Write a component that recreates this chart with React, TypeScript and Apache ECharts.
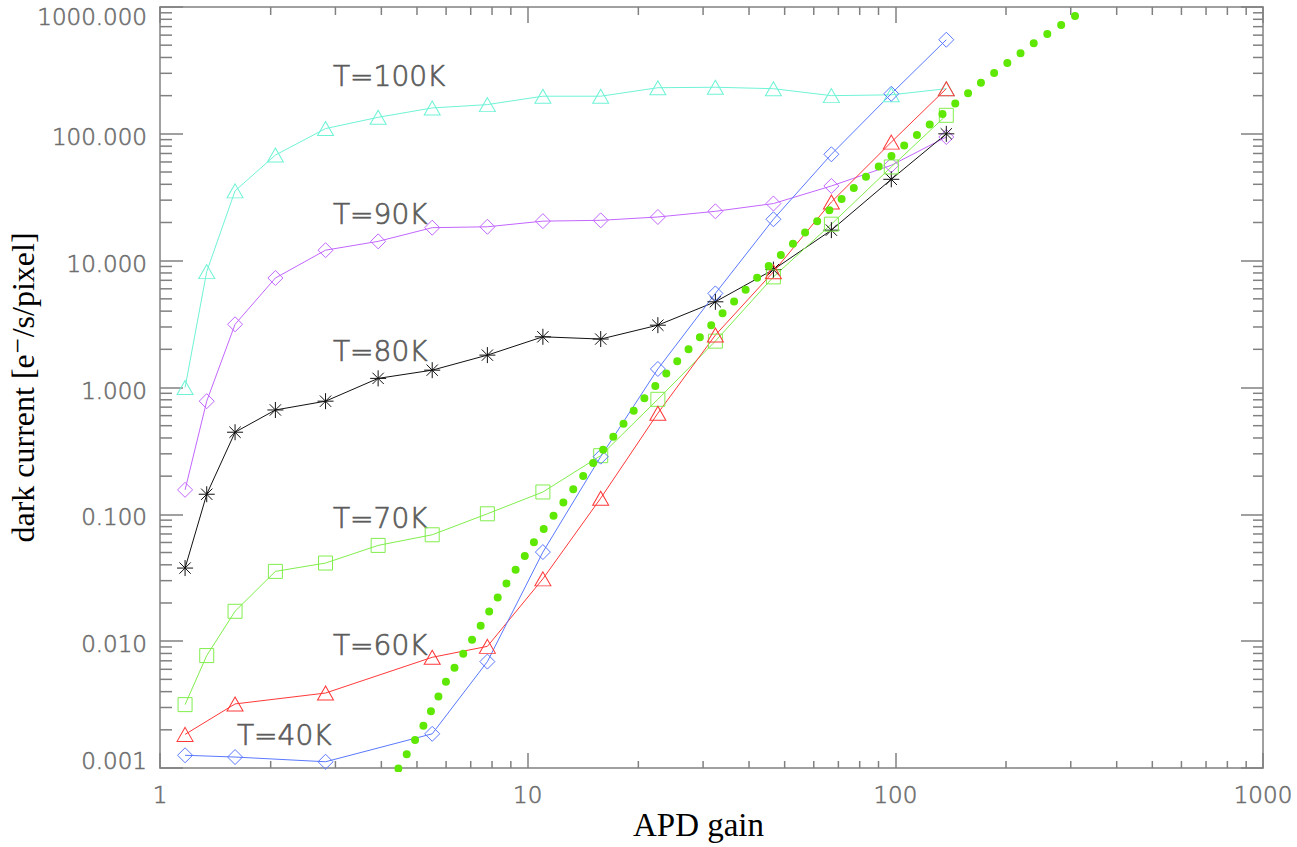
import React, { useEffect, useRef } from "react";
import * as echarts from "echarts";

// ---- data ----
const gainFull = [1.17, 1.34, 1.6, 2.06, 2.82, 3.92, 5.5, 7.77, 11.0, 15.8, 22.6, 32.4, 46.6, 67, 97.5, 137.6];
const gainSub = [1.17, 1.6, 2.82, 5.5, 7.77, 11.0, 15.8, 22.6, 32.4, 46.6, 67, 97.5, 137.6];

const dark100K = [1.0, 8.2, 35.5, 68, 110, 135, 160, 170, 198, 198, 231, 233, 227, 200, 203, 227];
const dark90K = [0.156, 0.78, 3.15, 7.3, 12.1, 14.2, 18.2, 18.5, 20.5, 20.8, 22.1, 24.5, 28.2, 38.8, 56.5, 94.4];
const dark80K = [0.0377, 0.144, 0.444, 0.665, 0.78, 1.18, 1.37, 1.8, 2.51, 2.41, 3.1, 4.74, 8.5, 17.4, 43.8, 100];
const dark70K = [0.00316, 0.0077, 0.0172, 0.0355, 0.0413, 0.0569, 0.069, 0.101, 0.15, 0.29, 0.807, 2.32, 7.45, 19.4, 54.8, 140];
const dark60K = [0.00184, 0.0032, 0.0039, 0.00746, 0.0091, 0.031, 0.134, 0.627, 2.59, 8.17, 29, 86, 227];
const dark40K = [0.00126, 0.00122, 0.00112, 0.00186, 0.0069, 0.0504, 0.285, 1.4, 5.52, 21.2, 69, 207, 552];

const modelGain = [4.45, 5.22, 6.04, 7.22, 8.58, 10.42, 12.85, 15.89, 19.9, 25.8, 33.9, 44.9, 60.7, 83.3, 118, 168, 246, 336];
const modelDark = [0.00099, 0.00218, 0.005, 0.0114, 0.0261, 0.0608, 0.138, 0.312, 0.715, 1.67, 3.85, 8.87, 19.9, 45.9, 105.4, 243, 557, 1000];

const curveLabels = ["T=100K", "T=90K", "T=80K", "T=70K", "T=60K", "T=40K"];

const xDecades = [1, 10, 100];
const yDecades = [0.001, 0.01, 0.1, 1, 10, 100];
const minorMultipliers = [2, 3, 4, 5, 6, 7, 8, 9];

const AXIS_COLOR = "#808080";
const LABEL_COLOR = "#6e6e6e";
const SANS = "'DejaVu Sans ExtraLight', 'DejaVu Sans Light', 'DejaVu Sans', sans-serif";
const SERIF = "'Liberation Serif', 'DejaVu Serif', serif";

const ASTERISK =
  "path://M0,-8L0,8M-8,0L8,0M-5.66,-5.66L5.66,5.66M-5.66,5.66L5.66,-5.66";

function pairs(xs: number[], ys: number[]) {
  return xs.map((x, i) => [x, ys[i]]);
}

function curve(name: string, xs: number[], ys: number[], color: string, symbol: string, size: number | number[]) {
  return {
    name,
    type: "line",
    data: pairs(xs, ys),
    symbol,
    symbolSize: size,
    showSymbol: true,
    lineStyle: { color, width: 1 },
    itemStyle: { color: symbol === ASTERISK ? color : "rgba(0,0,0,0)", borderColor: color, borderWidth: 1 },
    emphasis: { disabled: true },
    z: 3,
  };
}

export default function App() {
  const ref = useRef<HTMLDivElement>(null);

  useEffect(() => {
    if (!ref.current) return;
    const chart = echarts.init(ref.current, undefined, { renderer: "svg" });

    const minorX: number[] = [];
    xDecades.forEach((d) => minorMultipliers.forEach((m) => minorX.push(d * m)));
    const minorY: number[] = [];
    yDecades.forEach((d) => minorMultipliers.forEach((m) => minorY.push(d * m)));

    const tickStyle = { stroke: AXIS_COLOR, lineWidth: 1.5 };
    const annot = (t: string, x: number, y: number) => ({
      type: "text",
      x,
      y,
      style: {
        text: t,
        font: `28px ${SANS}`,
        fill: "#5c5c5c",
        stroke: "#5c5c5c",
        lineWidth: 0.7,
        verticalAlign: "middle",
      },
    });
    const labelBase = {
      fontSize: 23,
      fontFamily: SANS,
      color: LABEL_COLOR,
      textBorderColor: LABEL_COLOR,
      textBorderWidth: 0.6,
    };

    const option: any = {
      animation: false,
      backgroundColor: "#fff",
      grid: { left: 160, right: 34, top: 7, bottom: 79, containLabel: false, outerBoundsMode: "none" },
      xAxis: [
        {
          type: "log",
          logBase: 10,
          min: 1,
          max: 1000,
          position: "bottom",
          axisLine: { show: true, lineStyle: { color: AXIS_COLOR, width: 1.5 } },
          axisTick: { show: true, inside: true, length: 15, lineStyle: { color: AXIS_COLOR, width: 1.5 } },
          splitLine: { show: false },
          axisLabel: {
            show: true,
            margin: 15,
            ...labelBase,
            formatter: (v: number) => String(Math.round(v)),
          },
          name: "APD gain",
          nameLocation: "middle",
          nameGap: 40,
          nameMoveOverlap: false,
          nameTextStyle: { fontFamily: SERIF, fontSize: 33, color: "#000", padding: [0, 26, 0, 0] },
        },
        {
          type: "log",
          logBase: 10,
          min: 1,
          max: 1000,
          position: "top",
          axisLine: { show: true, lineStyle: { color: AXIS_COLOR, width: 1.5 } },
          axisTick: { show: true, inside: true, length: 16, lineStyle: { color: AXIS_COLOR, width: 1.5 } },
          axisLabel: { show: false },
          splitLine: { show: false },
        },
      ],
      yAxis: [
        {
          type: "log",
          logBase: 10,
          min: 0.001,
          max: 1000,
          position: "left",
          axisLine: { show: true, lineStyle: { color: AXIS_COLOR, width: 1.5 } },
          axisTick: { show: true, inside: true, length: 23, lineStyle: { color: AXIS_COLOR, width: 1.5 } },
          splitLine: { show: false },
          axisLabel: {
            show: true,
            margin: 13,
            ...labelBase,
            formatter: (v: number) => {
              const s = v.toFixed(3);
              if (v > 999) return `{hi|${s}}`;
              if (v < 0.0011) return `{lo|${s}}`;
              return `{n|${s}}`;
            },
            rich: {
              n: { ...labelBase, padding: [6, 0, 0, 0] },
              hi: { ...labelBase, padding: [19, 0, 0, 0] },
              lo: { ...labelBase, padding: [0, 0, 14, 0] },
            },
          },
          name: "dark current [e\u207B/s/pixel]",
          nameLocation: "middle",
          nameGap: 121,
          nameMoveOverlap: false,
          nameTextStyle: { fontFamily: SERIF, fontSize: 32, color: "#000" },
        },
        {
          type: "log",
          logBase: 10,
          min: 0.001,
          max: 1000,
          position: "right",
          axisLine: { show: true, lineStyle: { color: AXIS_COLOR, width: 1.5 } },
          axisTick: { show: true, inside: true, length: 22, lineStyle: { color: AXIS_COLOR, width: 1.5 } },
          axisLabel: { show: false },
          splitLine: { show: false },
        },
      ],
      series: [
        {
          type: "custom",
          name: "minorTicks",
          coordinateSystem: "cartesian2d",
          xAxisIndex: 0,
          yAxisIndex: 0,
          silent: true,
          clip: false,
          data: [[10, 1]],
          renderItem: (_params: any, api: any) => {
            const bl = api.coord([1, 0.001]);
            const tr = api.coord([1000, 1000]);
            const children: any[] = [];
            minorX.forEach((v) => {
              const px = api.coord([v, 1])[0];
              children.push({ type: "line", shape: { x1: px, y1: bl[1], x2: px, y2: bl[1] - 7 }, style: tickStyle });
              children.push({ type: "line", shape: { x1: px, y1: tr[1], x2: px, y2: tr[1] + 8 }, style: tickStyle });
            });
            minorY.forEach((v) => {
              const py = api.coord([1, v])[1];
              children.push({ type: "line", shape: { x1: bl[0], y1: py, x2: bl[0] + 12, y2: py }, style: tickStyle });
              children.push({ type: "line", shape: { x1: tr[0], y1: py, x2: tr[0] - 10, y2: py }, style: tickStyle });
            });
            return { type: "group", children };
          },
          z: 1,
        },
        curve(curveLabels[0], gainFull, dark100K, "#6ff3d6", "triangle", [16, 14]),
        curve(curveLabels[1], gainFull, dark90K, "#c266ff", "diamond", [15, 15]),
        curve(curveLabels[2], gainFull, dark80K, "#111111", ASTERISK, [16, 16]),
        curve(curveLabels[3], gainFull, dark70K, "#80ee4c", "rect", [14, 14]),
        curve(curveLabels[4], gainSub, dark60K, "#ff3838", "triangle", [16, 14]),
        curve(curveLabels[5], gainSub, dark40K, "#5a78ff", "diamond", [15, 15]),
        {
          name: "model",
          type: "line",
          data: pairs(modelGain, modelDark),
          showSymbol: false,
          symbol: "none",
          lineStyle: { color: "#5ee804", width: 8, type: [0, 16.5], cap: "round" },
          emphasis: { disabled: true },
          z: 4,
        },
      ],
      graphic: [
        annot(curveLabels[0], 333, 76),
        annot(curveLabels[1], 333, 214),
        annot(curveLabels[2], 333, 351),
        annot(curveLabels[3], 333, 518),
        annot(curveLabels[4], 333, 645),
        annot(curveLabels[5], 237, 735),
      ],
    };

    chart.setOption(option);
    return () => chart.dispose();
  }, []);

  return (
    <div
      ref={ref}
      style={{ position: "absolute", left: 0, top: 0, width: 1297, height: 847, background: "#fff" }}
    />
  );
}
